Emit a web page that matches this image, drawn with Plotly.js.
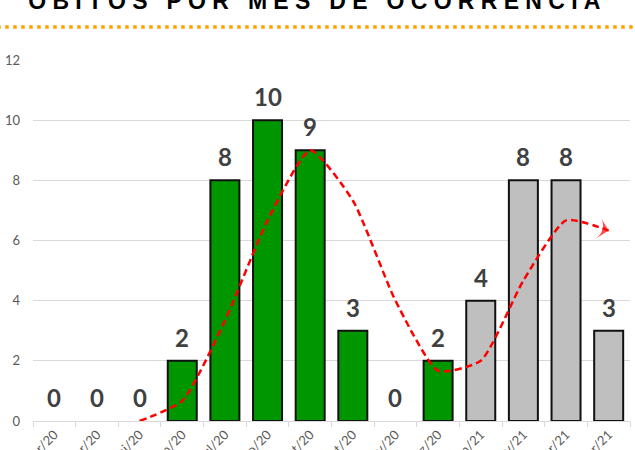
<!DOCTYPE html>
<html>
<head>
<meta charset="utf-8">
<script src="https://cdn.plot.ly/plotly-3.0.1.min.js"></script>
<style>
html,body{margin:0;padding:0;background:#fff;}
#chart{width:635px;height:450px;}
.gtitle{letter-spacing:6.3px;}
</style>
</head>
<body>
<div id="chart"></div>
<script>
var months = ['mar/20','abr/20','mai/20','jun/20','jul/20','ago/20','set/20','out/20','nov/20','dez/20','jan/21','fev/21','mar/21','abr/21'];
var deaths = [0,0,0,2,8,10,9,3,0,2,4,8,8,3];
var barColors = ['#009600','#009600','#009600','#009600','#009600','#009600','#009600','#009600','#009600','#009600','#BFBFBF','#BFBFBF','#BFBFBF','#BFBFBF'];
var trend = [null,null,0,0.67,3.33,6.67,9,7.33,4,1.67,2,4.67,6.67,6.33];
var yTicks = [0,2,4,6,8,10,12];
var titleText = 'ÓBITOS POR MÊS DE OCORRÊNCIA';

var bars = {
  type:'bar', x:months, y:deaths,
  marker:{color:barColors, line:{color:'#111111', width:deaths.map(function(v){return v===0 ? 0 : 2;})}},
  hoverinfo:'skip', showlegend:false
};
var symbols = trend.map(function(v,i){return i===trend.length-1 ? 'arrow-wide' : 'circle';});
var sizes = trend.map(function(v,i){return i===trend.length-1 ? 15 : 0;});
var line = {
  type:'scatter', mode:'lines+markers', x:months, y:trend,
  line:{color:'#FF0000', width:2.5, dash:'7px,4px', shape:'spline', smoothing:0.55},
  marker:{symbol:symbols, size:sizes, color:'#FF0000', angleref:'previous', line:{width:0}},
  connectgaps:false, hoverinfo:'skip', showlegend:false
};

var annotations = months.map(function(m,i){
  return {x:m, y:deaths[i], xref:'x', yref:'y', text:String(deaths[i]), showarrow:false,
    yanchor:'bottom', yshift:7,
    font:{family:'Lato, "Open Sans", sans-serif', size:24, color:'#404040', weight:700}};
});

var layout = {
  width:635, height:450,
  margin:{l:33, r:5, t:60, b:29},
  paper_bgcolor:'#ffffff', plot_bgcolor:'#ffffff',
  bargap:0.32,
  title:{text:titleText, x:0.5, xanchor:'center', xref:'container', yref:'container', y:0.98, yanchor:'bottom',
    font:{family:'"Liberation Sans", Arial, sans-serif', size:23, color:'#000000', weight:700}},
  xaxis:{type:'category', range:[-0.5, months.length-0.5], automargin:false, showgrid:false, showline:true, linecolor:'#d9d9d9', linewidth:1,
    ticks:'outside', ticklen:5, tickcolor:'#d9d9d9', tickson:'boundaries', tickangle:-45,
    tickfont:{family:'Lato, "Open Sans", sans-serif', size:13, color:'#595959'}, fixedrange:true},
  yaxis:{range:[0,12], automargin:false, tickvals:yTicks, showgrid:true, gridcolor:'#d9d9d9', gridwidth:1,
    zeroline:false, showline:false, ticks:'', ticklabelstandoff:12,
    tickfont:{family:'Lato, "Open Sans", sans-serif', size:13, color:'#595959'}, fixedrange:true},
  shapes:[{type:'line', xref:'paper', yref:'paper', x0:-0.06, x1:1.01, y0:1+33/361, y1:1+33/361,
    line:{color:'#FFA000', width:3.5, dash:'3.5px,4.5px'}}],
  annotations:annotations
};

Plotly.newPlot('chart', [bars, line], layout, {displayModeBar:false, staticPlot:true});
</script>
</body>
</html>
